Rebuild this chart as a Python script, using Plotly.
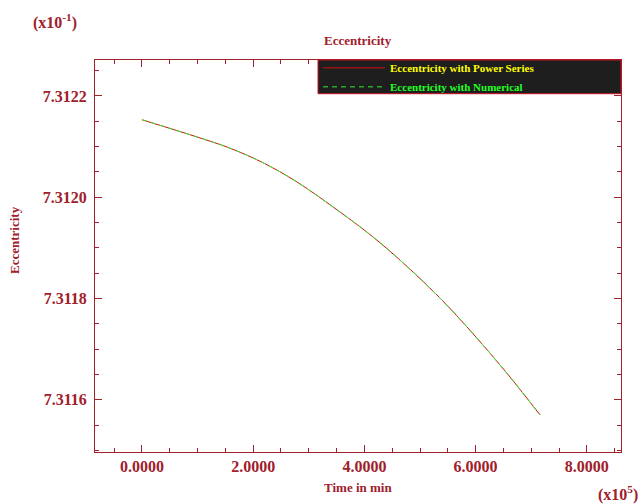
import plotly.graph_objects as go

# Time in units of 1e5 min, eccentricity in units of 1e-1
time_x = [0.0, 0.99, 1.58, 2.18, 2.79, 3.56, 4.15, 4.77, 5.36, 5.95, 6.56, 7.16]
ecc_power = [7.312153, 7.312119, 7.312097, 7.312068, 7.312030, 7.311971,
             7.311922, 7.311863, 7.311801, 7.311731, 7.311653, 7.311570]
ecc_numerical = list(ecc_power)

TXT = "#a0202c"
FONT = "Liberation Serif"

fig = go.Figure()
fig.add_trace(go.Scatter(
    x=time_x, y=ecc_power, mode="lines", line_shape="spline",
    line=dict(color="#d01010", width=1),
    name="<span style='color:#ffff00'>Eccentricity with Power Series</span>"))
fig.add_trace(go.Scatter(
    x=time_x, y=ecc_numerical, mode="lines", line_shape="spline",
    line=dict(color="#33ee33", width=1, dash="5px,4px"),
    name="<span style='color:#22ff22'>Eccentricity with Numerical</span>"))

axis_common = dict(
    showline=True, linecolor=TXT, linewidth=1, mirror="ticks",
    ticks="inside", ticklen=7, tickcolor=TXT, tickwidth=1,
    showgrid=False, zeroline=False,
    tickfont=dict(family=FONT, size=16, color=TXT, weight="bold"),
)

fig.update_xaxes(range=[-0.845, 8.615], tick0=0, dtick=2, tickformat=".4f",
                 minor=dict(dtick=0.5, tick0=0, ticks="inside", ticklen=4, tickcolor=TXT),
                 **axis_common)
fig.update_yaxes(range=[7.311497, 7.312271], tick0=7.3116, dtick=0.0002, tickformat=".4f",
                 minor=dict(dtick=0.00005, tick0=7.3116, ticks="inside", ticklen=4, tickcolor=TXT),
                 ticklabelstandoff=4,
                 **axis_common)

lab = dict(family=FONT, size=13, color=TXT, weight="bold")
ann = [
    dict(text="Eccentricity", x=0.5, y=1.051, xref="paper", yref="paper",
         showarrow=False, font=lab, xanchor="center", yanchor="middle"),
    dict(text="Time in min", x=0.5, y=-0.0893, xref="paper", yref="paper",
         showarrow=False, font=lab, xanchor="center", yanchor="middle"),
    dict(text="Eccentricity", x=-0.152, y=0.541, xref="paper", yref="paper",
         showarrow=False, font=lab, textangle=-90, xanchor="center", yanchor="middle"),
    dict(text="(x10<sup>-1</sup>)", x=-0.076, y=1.097, xref="paper", yref="paper",
         showarrow=False, font=dict(family=FONT, size=16, color=TXT, weight="bold"),
         xanchor="center", yanchor="middle"),
    dict(text="(x10<sup>5</sup>)", x=1.036, y=-0.107, xref="paper", yref="paper",
         showarrow=False, font=dict(family=FONT, size=16, color=TXT, weight="bold"),
         xanchor="right", yanchor="middle"),
]

shapes = [
    dict(type="rect", xref="paper", yref="paper", x0=0.424, x1=1.0, y0=0.914, y1=1.0,
         fillcolor="#1e1e1e", line=dict(color="#c81020", width=1), layer="above"),
]

fig.update_layout(
    width=642, height=504,
    margin=dict(l=95, r=21, t=60, b=52),
    paper_bgcolor="white", plot_bgcolor="white",
    showlegend=True,
    legend=dict(x=0.424, y=1.017, xanchor="left", yanchor="top",
                bgcolor="rgba(0,0,0,0)", borderwidth=0,
                font=dict(family=FONT, size=11, weight="bold"),
                tracegroupgap=0, itemwidth=62),
    annotations=ann,
    shapes=shapes,
)

fig.write_html("out.html", config={"displayModeBar": False},
               post_script="document.body.style.margin='0';document.body.style.padding='0';")
